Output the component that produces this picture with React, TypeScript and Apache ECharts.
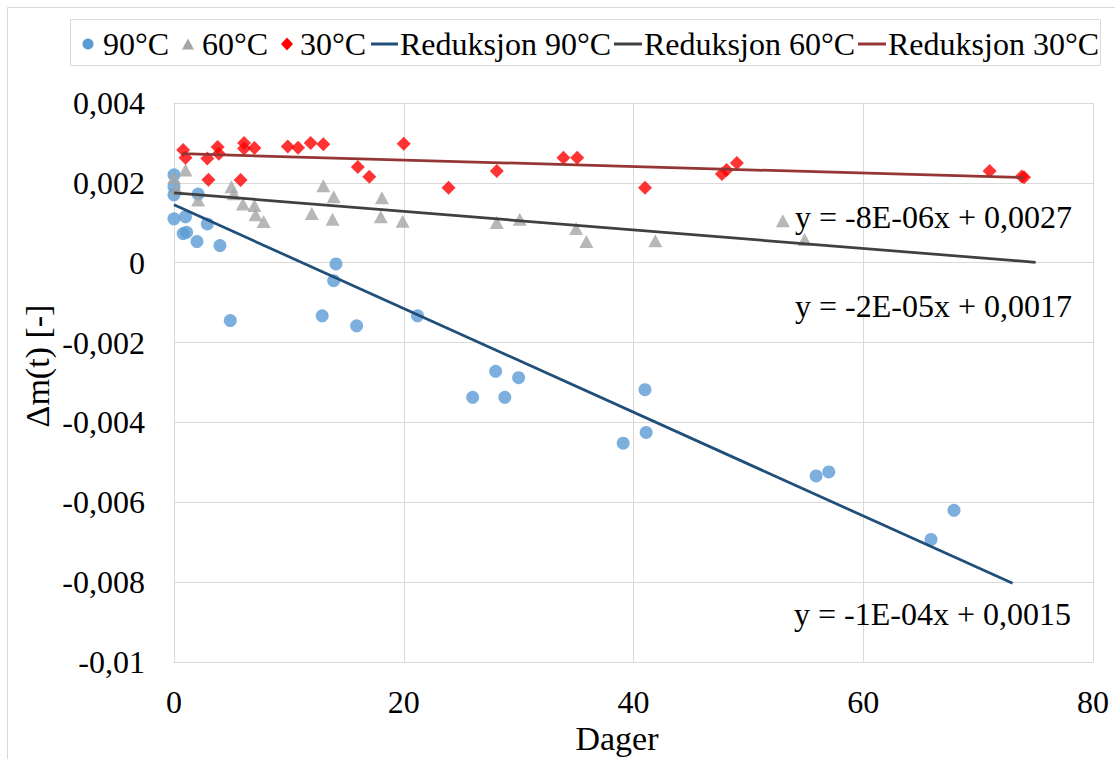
import React, { useEffect, useRef } from "react";
import * as echarts from "echarts";

const FONT = "Liberation Serif";

// Days (x) and Δm(t) (y)
const series90: [number, number][] = [
  [0, 0.0022], [0, 0.0019], [0, 0.0017], [0, 0.0011], [1.0, 0.00115], [0.8, 0.00073],
  [1.1, 0.00076], [2.1, 0.00172], [2.0, 0.00053], [2.9, 0.00097], [4.0, 0.00043],
  [4.9, -0.00145], [12.9, -0.00133], [13.9, -0.00045], [14.1, -0.00003], [15.9, -0.00158],
  [21.2, -0.00133], [26.0, -0.00337], [28.0, -0.00272], [28.8, -0.00337], [30.0, -0.00288],
  [39.1, -0.00452], [41.0, -0.00318], [41.1, -0.00425], [55.9, -0.00534], [57.0, -0.00524],
  [65.9, -0.00693], [67.9, -0.0062],
];

const series60: [number, number][] = [
  [0, 0.00213], [0.2, 0.00185], [1.0, 0.00232], [2.1, 0.00157], [5.0, 0.0019], [5.2, 0.00173],
  [6.0, 0.00147], [7.0, 0.00143], [7.1, 0.0012], [7.8, 0.00103], [12.0, 0.00123], [13.0, 0.00193],
  [13.9, 0.00165], [13.8, 0.00109], [18.1, 0.00163], [18.0, 0.00115], [19.9, 0.00104],
  [28.1, 0.00101], [30.1, 0.00109], [35.0, 0.00086], [35.9, 0.00053], [41.9, 0.00055],
  [53.0, 0.00105], [54.9, 0.00058],
];

const series30: [number, number][] = [
  [0.8, 0.00282], [1.0, 0.00263], [2.9, 0.00261], [3.8, 0.0029], [3.9, 0.00273], [3.0, 0.00208],
  [6.1, 0.003], [6.1, 0.00286], [7.0, 0.00287], [5.8, 0.00207], [9.9, 0.00291], [10.8, 0.00288],
  [11.9, 0.003], [13.0, 0.00297], [16.0, 0.0024], [17.0, 0.00215], [20.0, 0.00298],
  [23.9, 0.00188], [28.1, 0.0023], [33.9, 0.00263], [35.1, 0.00263], [41.0, 0.00188],
  [47.7, 0.00222], [48.1, 0.00232], [49.0, 0.0025], [71.0, 0.0023], [73.8, 0.00216], [74.0, 0.00214],
];

// Trend line end points
const trend90: [number, number][] = [[0, 0.00145], [73, -0.00803]];
const trend60: [number, number][] = [[0, 0.00175], [75, 0.00001]];
const trend30: [number, number][] = [[0.7, 0.00273], [74, 0.00213]];

const legendNames = ["90°C", "60°C", "30°C", "Reduksjon 90°C", "Reduksjon 60°C", "Reduksjon 30°C"];
const equationTexts = ["y = -8E-06x + 0,0027", "y = -2E-05x + 0,0017", "y = -1E-04x + 0,0015"];
const xTickValues = [0, 20, 40, 60, 80];
const yTickValues = [0.004, 0.002, 0, -0.002, -0.004, -0.006, -0.008, -0.01];
const xTitle = "Dager";
const yTitle = "Δm(t) [-]";

const xTicks = { min: 0, max: 80, interval: 20 };
const yTicks = { min: -0.01, max: 0.004, interval: 0.002 };

const COLORS = {
  c90: "#5B9BD5",
  c60: "#A5A5A5",
  c30: "#FF0000",
  t90: "#1F4E79",
  t60: "#404040",
  t30: "#943634",
};

export default function App() {
  const ref = useRef<HTMLDivElement>(null);

  useEffect(() => {
    if (!ref.current) return;
    const chart = echarts.init(ref.current, undefined, { renderer: "svg" });
    const fmt = (v: number) => String(Number(v.toFixed(6))).replace(".", ",");
    const option: any = {
      animation: false,
      backgroundColor: "#ffffff",
      grid: { left: 174, right: 22, top: 103, bottom: 97, containLabel: false, outerBoundsMode: "none" },
      legend: { show: false, data: legendNames },
      xAxis: {
        type: "value",
        min: xTicks.min,
        max: xTicks.max,
        interval: xTicks.interval,
        axisLine: { show: true, onZero: false, lineStyle: { color: "#d9d9d9", width: 1 } },
        axisTick: { show: false },
        axisLabel: { show: false },
        splitLine: { show: true, lineStyle: { color: "#d9d9d9", width: 1 } },
      },
      yAxis: {
        type: "value",
        min: yTicks.min,
        max: yTicks.max,
        interval: yTicks.interval,
        axisLine: { show: true, onZero: false, lineStyle: { color: "#d9d9d9", width: 1 } },
        axisTick: { show: false },
        axisLabel: { show: false },
        splitLine: { show: true, lineStyle: { color: "#d9d9d9", width: 1 } },
      },
      series: [
        { type: "scatter", name: legendNames[0], data: series90, symbol: "circle", symbolSize: 13, itemStyle: { color: COLORS.c90 } },
        { type: "scatter", name: legendNames[1], data: series60, symbol: "triangle", symbolSize: [14, 13], itemStyle: { color: COLORS.c60 } },
        { type: "scatter", name: legendNames[2], data: series30, symbol: "diamond", symbolSize: 14, itemStyle: { color: COLORS.c30 } },
        { type: "line", name: legendNames[3], data: trend90, showSymbol: false, symbol: "none", color: COLORS.t90, lineStyle: { color: COLORS.t90, width: 2.75 } },
        { type: "line", name: legendNames[4], data: trend60, showSymbol: false, symbol: "none", color: COLORS.t60, lineStyle: { color: COLORS.t60, width: 2.75 } },
        { type: "line", name: legendNames[5], data: trend30, showSymbol: false, symbol: "none", color: COLORS.t30, lineStyle: { color: COLORS.t30, width: 2.75 } },
      ],
    };
    chart.setOption(option);

    const txt = (text: string, x: number, y: number, size: number, align: string, extra: any = {}) => ({
      type: "text",
      x,
      y,
      silent: true,
      ...extra,
      style: { text, font: `${size}px ${FONT}`, fill: "#000", align, verticalAlign: "middle" },
    });

    const g: any[] = [];
    // outer chart border and legend box
    g.push({ type: "rect", silent: true, z: -10, shape: { x: 7.5, y: 7.5, width: 1200, height: 800 }, style: { fill: "none", stroke: "#d9d9d9", lineWidth: 1 } });
    g.push({ type: "rect", silent: true, z: -10, shape: { x: 70.5, y: 19.5, width: 1030, height: 46 }, style: { fill: "none", stroke: "#d9d9d9", lineWidth: 1 } });

    // tick labels placed through the axes' scales
    xTickValues.forEach((v) => {
      const px = chart.convertToPixel({ xAxisIndex: 0 }, v) as number;
      g.push(txt(fmt(v), px, 702, 32, "center"));
    });
    yTickValues.forEach((v) => {
      const py = chart.convertToPixel({ yAxisIndex: 0 }, v) as number;
      g.push(txt(fmt(v), 145, py, 32, "right"));
    });

    // axis titles
    g.push(txt(xTitle, 617, 738, 34, "center"));
    g.push(txt(yTitle, 37, 366, 34, "center", { rotation: Math.PI / 2 }));

    // legend
    const ly = 44;
    g.push({ type: "circle", silent: true, shape: { cx: 88, cy: ly, r: 5.5 }, style: { fill: COLORS.c90 } });
    g.push(txt(legendNames[0], 103, ly, 32, "left"));
    g.push({ type: "polygon", silent: true, shape: { points: [[182, ly + 5.5], [194, ly + 5.5], [188, ly - 5.5]] }, style: { fill: COLORS.c60 } });
    g.push(txt(legendNames[1], 202, ly, 32, "left"));
    g.push({ type: "polygon", silent: true, shape: { points: [[281, ly], [287, ly - 6.5], [293, ly], [287, ly + 6.5]] }, style: { fill: COLORS.c30 } });
    g.push(txt(legendNames[2], 300, ly, 32, "left"));
    g.push({ type: "line", silent: true, shape: { x1: 371, y1: ly, x2: 398, y2: ly }, style: { stroke: COLORS.t90, lineWidth: 3 } });
    g.push(txt(legendNames[3], 400, ly, 32, "left"));
    g.push({ type: "line", silent: true, shape: { x1: 614, y1: ly, x2: 642, y2: ly }, style: { stroke: COLORS.t60, lineWidth: 3 } });
    g.push(txt(legendNames[4], 644, ly, 32, "left"));
    g.push({ type: "line", silent: true, shape: { x1: 858, y1: ly, x2: 886, y2: ly }, style: { stroke: COLORS.t30, lineWidth: 3 } });
    g.push(txt(legendNames[5], 888, ly, 32, "left"));

    // trend line equations
    g.push(txt(equationTexts[0], 795, 217, 32, "left"));
    g.push(txt(equationTexts[1], 795, 306, 32, "left"));
    g.push(txt(equationTexts[2], 794, 614, 32, "left"));

    chart.setOption({ graphic: g });
    return () => chart.dispose();
  }, []);

  return (
    <div
      ref={ref}
      style={{ position: "absolute", left: 0, top: 0, width: 1115, height: 759, background: "#fff" }}
    />
  );
}
